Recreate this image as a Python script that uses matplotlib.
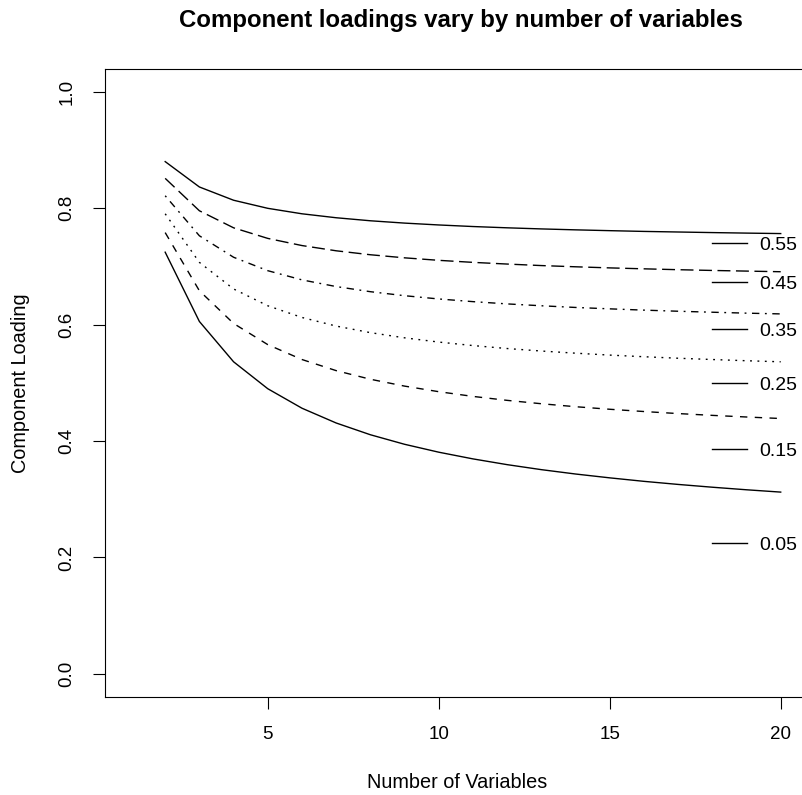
import matplotlib
matplotlib.use('Agg')
import matplotlib.pyplot as plt

plt.rcParams['font.family'] = ['Liberation Sans', 'DejaVu Sans']

n_vars = list(range(2, 21))
r_labels = ['0.05', '0.15', '0.25', '0.35', '0.45', '0.55']
load_005 = [0.7246, 0.6055, 0.5362, 0.4899, 0.4564, 0.4310, 0.4108, 0.3944, 0.3808, 0.3693,
            0.3594, 0.3508, 0.3433, 0.3367, 0.3307, 0.3254, 0.3206, 0.3162, 0.3122]
load_015 = [0.7583, 0.6583, 0.6021, 0.5657, 0.5401, 0.5210, 0.5062, 0.4944, 0.4848, 0.4767,
            0.4699, 0.4641, 0.4590, 0.4546, 0.4507, 0.4472, 0.4441, 0.4413, 0.4387]
load_025 = [0.7906, 0.7071, 0.6614, 0.6325, 0.6124, 0.5976, 0.5863, 0.5774, 0.5701, 0.5641,
            0.5590, 0.5547, 0.5510, 0.5477, 0.5449, 0.5423, 0.5401, 0.5380, 0.5362]
load_035 = [0.8216, 0.7528, 0.7159, 0.6928, 0.6770, 0.6655, 0.6567, 0.6498, 0.6442, 0.6396,
            0.6357, 0.6325, 0.6296, 0.6272, 0.6250, 0.6231, 0.6214, 0.6198, 0.6185]
load_045 = [0.8515, 0.7958, 0.7665, 0.7483, 0.7360, 0.7270, 0.7202, 0.7149, 0.7106, 0.7071,
            0.7042, 0.7016, 0.6995, 0.6976, 0.6960, 0.6945, 0.6932, 0.6921, 0.6910]
load_055 = [0.8803, 0.8367, 0.8139, 0.8000, 0.7906, 0.7838, 0.7786, 0.7746, 0.7714, 0.7687,
            0.7665, 0.7646, 0.7630, 0.7616, 0.7603, 0.7593, 0.7583, 0.7574, 0.7566]
legend_y = [0.224, 0.386, 0.499, 0.592, 0.673, 0.740]
x_ticks = [5, 10, 15, 20]
y_ticks = [0.0, 0.2, 0.4, 0.6, 0.8, 1.0]

W, H = 803, 795
fig = plt.figure(figsize=(W / 100, H / 100), dpi=100)
ax = fig.add_axes([105 / W, 1 - 697 / H, (806.7 - 105) / W, (697 - 68.7) / H])
ax.set_xlim(0.24, 20.76)
ax.set_ylim(-0.04, 1.04)

u = 1.33
styles = [
    None,
    (0, (4 * u, 4 * u)),
    (0, (1 * u, 3 * u)),
    (0, (1 * u, 3 * u, 4 * u, 3 * u)),
    (0, (7 * u, 3 * u)),
    None,
]
series = [load_005, load_015, load_025, load_035, load_045, load_055]
for vals, st in zip(series, styles):
    ax.plot(n_vars, vals, color='black', lw=1.0, linestyle='-' if st is None else st)

for lab, yv in zip(r_labels, legend_y):
    ax.plot([18, 19], [yv, yv], color='black', lw=1.0)
    ax.text(19.36, yv - 0.004, lab, ha='left', va='center', fontsize=14)

for s in ax.spines.values():
    s.set_linewidth(0.8)
ax.spines['right'].set_visible(False)
ax.set_xticks(x_ticks)
ax.set_xticklabels([str(v) for v in x_ticks])
ax.set_yticks(y_ticks)
ax.set_yticklabels(['%.1f' % v for v in y_ticks])
ax.tick_params(axis='both', direction='out', length=8.6, width=0.8, labelsize=13.5)
ax.tick_params(axis='x', pad=12.5)
ax.tick_params(axis='y', pad=12.5, labelrotation=90)
for t in ax.get_yticklabels():
    t.set_va('center')

fig.text(457 / W, 1 - 783 / H, 'Number of Variables', ha='center', va='center', fontsize=14.3)
fig.text(21 / W, 1 - 383 / H, 'Component Loading', ha='center', va='center', rotation=90, fontsize=14.3)
fig.text(461 / W, 1 - 20 / H, 'Component loadings vary by number of variables',
         ha='center', va='center', fontsize=17.3, fontweight='bold')

fig.savefig('out.png', dpi=100)
